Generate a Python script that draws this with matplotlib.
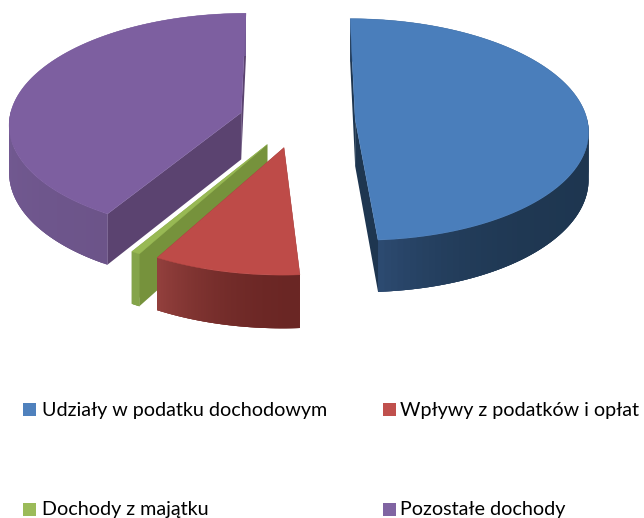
#!/usr/bin/env python3
"""
Exploded 3D pie chart with a legend below it. Saves out.png
"""
import numpy as np
import matplotlib
matplotlib.use('Agg')
import matplotlib.pyplot as plt
from matplotlib.colors import to_rgb
from matplotlib.patches import Polygon, Rectangle

labels = ['Udziały w podatku dochodowym', 'Wpływy z podatków i opłat',
          'Dochody z majątku', 'Pozostałe dochody']
values = [48.95, 9.1, 0.55, 41.4]

top_colors = ['#4A7EBB', '#BE4B48', '#98B954', '#7D5FA0']
legend_colors = ['#4F81BD', '#C0504D', '#9BBB59', '#8064A2']
inner_colors = ['#1E3650', '#6B2725', '#76923C', '#5B4370']
# wall shade at the start and the end of each slice's arc, and how late it changes
wall_colors = [('#1E3650', '#2C4A70'), ('#6A2624', '#93403D'),
               ('#84A44A', '#84A44A'), ('#6C5489', '#7C62A0')]
wall_power = [10, 2, 1, 1]
draw_order = [3, 0, 2, 1]

# projection of the tilted pie onto the canvas, in pixels
CX, CY, RX, RY = 297, 120, 232, 110
PERSP = 0.094
DEPTH = 47
EXPLODE = 0.251


def project(u, v, z=0.0):
    s = 1 / (1 - PERSP * np.asarray(v))
    return np.column_stack([CX + RX * np.asarray(u) * s,
                            CY + RY * np.asarray(v) * s + DEPTH * z * s])


def draw_slice(ax, start, end, top, inner, wall, power):
    mid = np.radians((start + end) / 2)
    du, dv = EXPLODE * np.sin(mid), -EXPLODE * np.cos(mid)
    th = np.radians(np.linspace(start, end, 121))
    u, v = du + np.sin(th), dv - np.cos(th)

    # the two flat cut faces
    for i in (0, -1):
        face = np.vstack([project([du, u[i]], [dv, v[i]]),
                          project([u[i], du], [v[i], dv], 1)])
        ax.add_patch(Polygon(face, fc=inner, ec='none'))

    # outer wall: one solid piece first so the strips leave no seams
    c0, c1 = np.array(to_rgb(wall[0])), np.array(to_rgb(wall[1]))
    whole = np.vstack([project(u, v), project(u[::-1], v[::-1], 1)])
    ax.add_patch(Polygon(whole, fc=(c0 + c1) / 2, ec='none'))
    for i in range(len(th) - 1):
        if v[i] < dv and v[i + 1] < dv:
            continue
        col = c0 + (c1 - c0) * (i / (len(th) - 2)) ** power
        j = min(i + 3, len(th))
        strip = np.vstack([project(u[i:j], v[i:j]),
                           project(u[i:j][::-1], v[i:j][::-1], 1)])
        ax.add_patch(Polygon(strip, fc=col, ec='none'))

    face = np.vstack([project([du], [dv]), project(u, v)])
    ax.add_patch(Polygon(face, fc=top, ec=top, lw=0.3))


def main():
    plt.rcParams['font.family'] = ['Lato', 'DejaVu Sans']
    fig = plt.figure(figsize=(6.44, 5.18), dpi=100)
    ax = fig.add_axes([0, 0, 1, 1])
    ax.set_xlim(0, 644)
    ax.set_ylim(518, 0)
    ax.axis('off')

    edges = np.concatenate([[0], np.cumsum(values)]) / sum(values) * 360
    for i in draw_order:
        draw_slice(ax, edges[i], edges[i + 1], top_colors[i], inner_colors[i],
                   wall_colors[i], wall_power[i])

    # legend, two columns and two rows
    for i, label in enumerate(labels):
        x = 23 if i % 2 == 0 else 383
        y = 409.5 if i < 2 else 509
        ax.add_patch(Rectangle((x, y - 6.5), 13, 13, fc=legend_colors[i], ec='none'))
        ax.text(x + (19 if i % 2 == 0 else 17), y + 1, label, fontsize=14.25,
                color='black', va='center', ha='left')

    fig.savefig('out.png', dpi=100)
    plt.close(fig)


if __name__ == '__main__':
    main()
